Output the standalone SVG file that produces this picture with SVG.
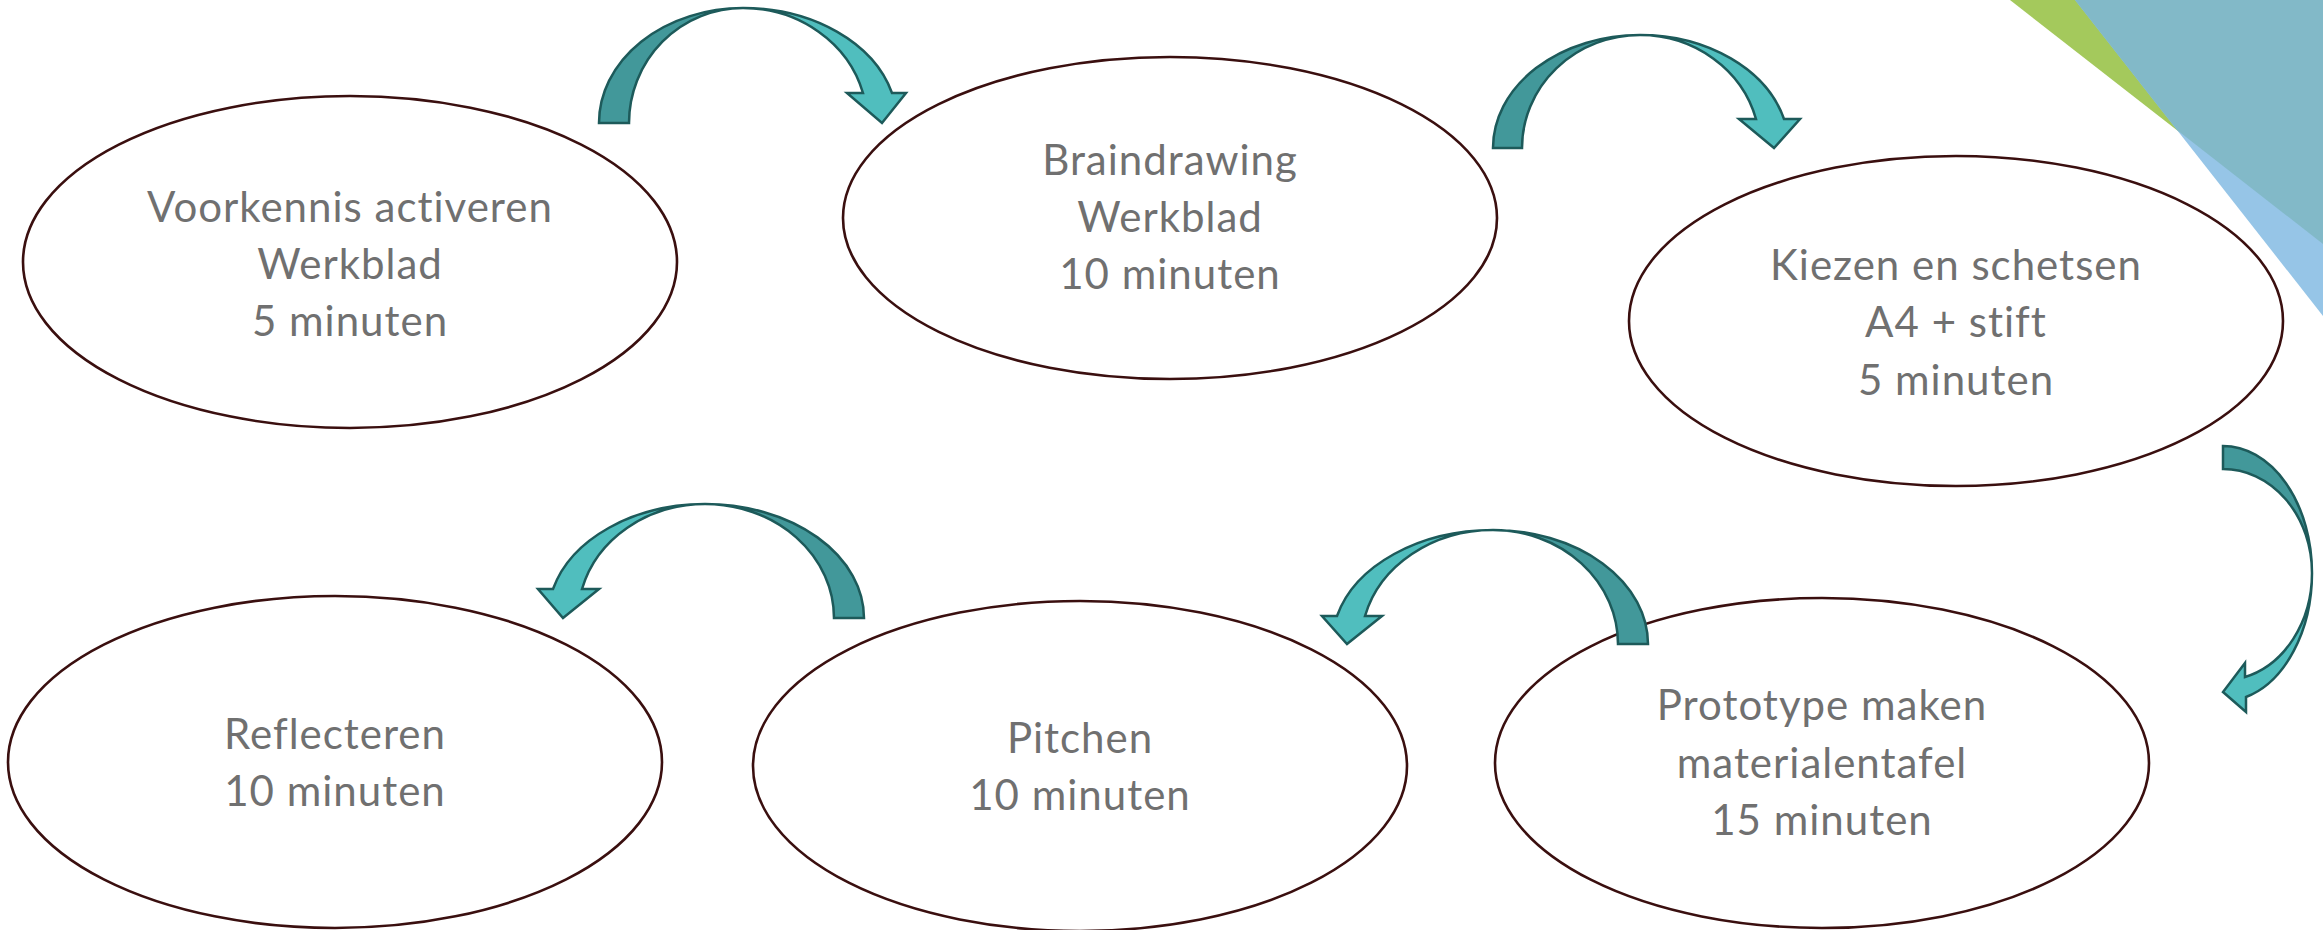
<svg xmlns="http://www.w3.org/2000/svg" width="2323" height="930" viewBox="0 0 2323 930">
<style>
.node{fill:#ffffff;stroke:#3a0f0f;stroke-width:2.6}
.lbl{font-family:Lato,"Liberation Sans",sans-serif;font-size:42px;letter-spacing:1px;fill:#707070;text-anchor:middle}
.dark{fill:#42989a;stroke:#1d5a5a;stroke-width:2.5;stroke-linejoin:miter}
.light{fill:#50bebe;stroke:#1d5a5a;stroke-width:2.5;stroke-linejoin:miter}
</style>
<rect width="2323" height="930" fill="#ffffff"/>
<g id="decoration">
<polygon points="2010,0 2323,0 2323,244" fill="#a4c95c"/>
<polygon points="2075,0 2323,0 2323,316" fill="#96c5e7"/>
<polygon points="2075,0 2323,0 2323,244 2177,130" fill="#82b9c8"/>
</g>
<g id="node1">
<ellipse class="node" cx="350" cy="262" rx="327" ry="166"/>
<text class="lbl" x="350" y="222">Voorkennis activeren</text>
<text class="lbl" x="350" y="279">Werkblad</text>
<text class="lbl" x="350" y="336">5 minuten</text>
</g>
<g id="node2">
<ellipse class="node" cx="1170" cy="218" rx="327" ry="161"/>
<text class="lbl" x="1170" y="175">Braindrawing</text>
<text class="lbl" x="1170" y="232">Werkblad</text>
<text class="lbl" x="1170" y="289">10 minuten</text>
</g>
<g id="node3">
<ellipse class="node" cx="1956" cy="321" rx="327" ry="165"/>
<text class="lbl" x="1956" y="280">Kiezen en schetsen</text>
<text class="lbl" x="1956" y="337">A4 + stift</text>
<text class="lbl" x="1956" y="395">5 minuten</text>
</g>
<g id="node4">
<ellipse class="node" cx="335" cy="762" rx="327" ry="166"/>
<text class="lbl" x="335" y="749">Reflecteren</text>
<text class="lbl" x="335" y="806">10 minuten</text>
</g>
<g id="node5">
<ellipse class="node" cx="1080" cy="766" rx="327" ry="165"/>
<text class="lbl" x="1080" y="753">Pitchen</text>
<text class="lbl" x="1080" y="810">10 minuten</text>
</g>
<g id="node6">
<ellipse class="node" cx="1822" cy="763" rx="327" ry="165"/>
<text class="lbl" x="1822" y="720">Prototype maken</text>
<text class="lbl" x="1822" y="778">materialentafel</text>
<text class="lbl" x="1822" y="835">15 minuten</text>
</g>
<g id="connectors">
<g id="arrow1">
<path class="dark" d="M 599,123 A 144,115 0 0 1 743,8 A 114,115 0 0 0 629,123 Z"/>
<path class="light" d="M 743,8 A 154.3,115 0 0 1 892,93 L 906,93 L 882,123 L 847,93 L 863,93 A 124.3,115 0 0 0 743,8 Z"/>
</g>
<g id="arrow2">
<path class="dark" d="M 1493,148 A 147,113 0 0 1 1640,35 A 118,113 0 0 0 1522,148 Z"/>
<path class="light" d="M 1640,35 A 149,113 0 0 1 1784,119 L 1800,119 L 1774,148 L 1739,119 L 1756,119 A 120,113 0 0 0 1640,35 Z"/>
</g>
<g id="arrow3">
<path class="dark" d="M 2223,446 A 89,127 0 0 1 2312,573 A 89,104 0 0 0 2223,469 Z"/>
<path class="light" d="M 2312,573 A 89,128.4 0 0 1 2246,697 L 2246,712 L 2223,692 L 2245,663 L 2245,677 A 89,107.3 0 0 0 2312,573 Z"/>
</g>
<g id="arrow4">
<path class="dark" d="M 1648,644 A 155,114 0 0 0 1493,530 A 125,114 0 0 1 1618,644 Z"/>
<path class="light" d="M 1493,530 A 160.9,114 0 0 0 1337,616 L 1322,616 L 1347,644 L 1382,616 L 1365,616 A 132,114 0 0 1 1493,530 Z"/>
</g>
<g id="arrow5">
<path class="dark" d="M 864,618 A 159,114 0 0 0 705,504 A 129,114 0 0 1 834,618 Z"/>
<path class="light" d="M 705,504 A 157.2,114 0 0 0 553,589 L 538,589 L 563,618 L 599,589 L 582,589 A 127.2,114 0 0 1 705,504 Z"/>
</g>
</g>
</svg>
